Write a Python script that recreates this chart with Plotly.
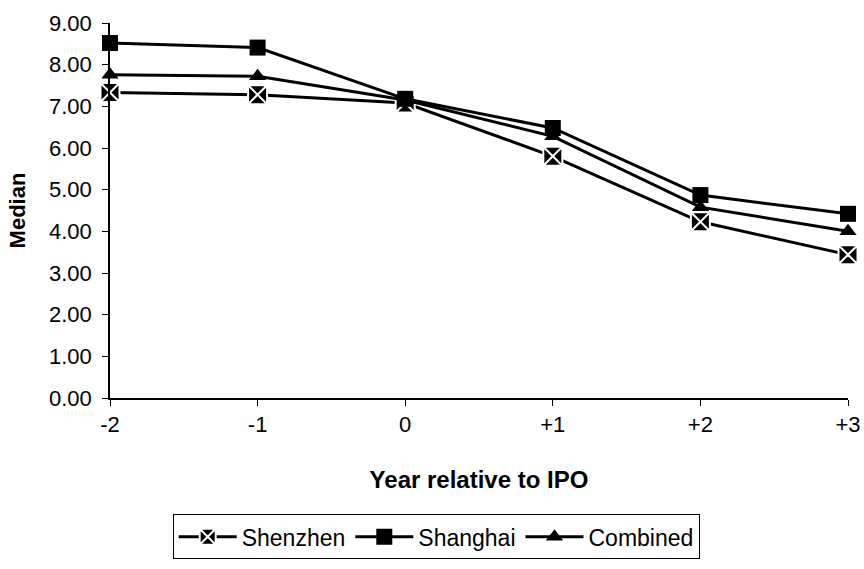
import plotly.graph_objects as go

years = [-2, -1, 0, 1, 2, 3]
year_labels = ["-2", "-1", "0", "+1", "+2", "+3"]
shenzhen = [7.33, 7.28, 7.08, 5.80, 4.23, 3.44]
shanghai = [8.52, 8.41, 7.18, 6.48, 4.87, 4.42]
combined = [7.76, 7.72, 7.15, 6.28, 4.58, 4.00]
y_ticks = [0, 1, 2, 3, 4, 5, 6, 7, 8, 9]

fig = go.Figure()
fig.add_trace(go.Scatter(
    x=years, y=shenzhen, name="Shenzhen", mode="lines+markers",
    line=dict(color="black", width=3),
    marker=dict(symbol="square-x", size=19, color="black",
                line=dict(color="white", width=2)),
    cliponaxis=False))
fig.add_trace(go.Scatter(
    x=years, y=shanghai, name="Shanghai", mode="lines+markers",
    line=dict(color="black", width=3),
    marker=dict(symbol="square", size=16, color="black"),
    cliponaxis=False))
fig.add_trace(go.Scatter(
    x=years, y=combined, name="Combined", mode="lines+markers",
    line=dict(color="black", width=3),
    marker=dict(symbol="triangle-up", size=15, color="black"),
    cliponaxis=False))

fnt = "Liberation Sans, Arial"

fig.update_layout(
    width=864, height=569,
    margin=dict(l=110, r=16, t=23, b=171, autoexpand=False),
    paper_bgcolor="white", plot_bgcolor="white",
    font=dict(family=fnt, color="black", size=22),
    showlegend=True,
    legend=dict(orientation="h", x=0.442, xanchor="center", y=-0.31, yanchor="top",
                bordercolor="black", borderwidth=1,
                font=dict(family=fnt, size=23, color="black"),
                itemwidth=58, traceorder="normal"),
)
fig.update_xaxes(
    range=[-2, 3], tickvals=years, ticktext=year_labels, automargin=False,
    showline=True, linecolor="black", linewidth=1.5, mirror=False,
    ticks="outside", ticklen=6, tickcolor="black", showgrid=False, zeroline=False,
    tickfont=dict(family=fnt, size=22), ticklabelstandoff=0,
    title=dict(text="<b>Year relative to IPO</b>", standoff=35,
               font=dict(family=fnt, size=24)))
fig.update_yaxes(
    range=[0, 9], tickvals=y_ticks, tickformat=".2f", automargin=False,
    showline=True, linecolor="black", linewidth=1.5,
    ticks="outside", ticklen=6, tickcolor="black", showgrid=False, zeroline=False,
    tickfont=dict(family=fnt, size=22), ticklabelstandoff=6,
    title=dict(text="<b>Median</b>", standoff=17,
               font=dict(family=fnt, size=22)))

fig.write_html(
    "out.html",
    config={"displayModeBar": False},
    post_script="document.body.style.margin='0';document.body.style.overflow='hidden';",
)
